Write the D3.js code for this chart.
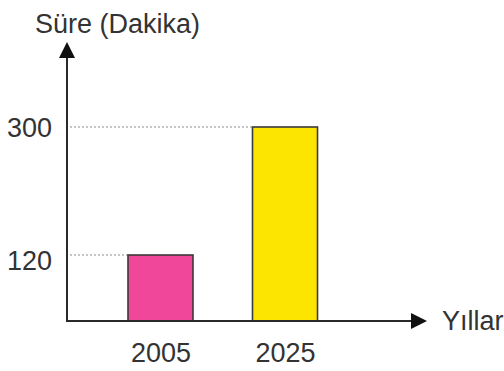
<!DOCTYPE html>
<html>
<head>
<meta charset="utf-8">
<script src="https://cdn.jsdelivr.net/npm/d3@7"></script>
<style>
  html, body { margin: 0; padding: 0; background: #fff; }
  svg { display: block; }
  text { font-family: "Liberation Sans", Arial, sans-serif; fill: #333; }
</style>
</head>
<body>
<script>
const years = ["2005", "2025"];
const durations = [120, 300];
const barColors = ["#f0479a", "#fce500"];
const yTicks = [120, 300];
const yTitle = "Süre (Dakika)";
const xTitle = "Yıllar";

const W = 504, H = 371;
const x0 = 67, base = 321;

const svg = d3.select("body").append("svg").attr("width", W).attr("height", H);

// reference drawing is not to scale: piecewise linear scale through its tick positions
const y = d3.scaleLinear().domain([0, 120, 300]).range([base, 255, 127]);
const x = d3.scalePoint().domain(years).range([160.5, 285]);
const barW = 65;

// dotted guide lines
svg.selectAll("line.guide").data(durations).enter().append("line")
  .attr("class", "guide")
  .attr("x1", x0 + 3)
  .attr("x2", (d, i) => x(years[i]) - barW / 2)
  .attr("y1", d => y(d)).attr("y2", d => y(d))
  .attr("stroke", "#8a8a8a").attr("stroke-width", 1.2)
  .attr("stroke-dasharray", "2,2");

// bars
svg.selectAll("rect.bar").data(durations).enter().append("rect")
  .attr("class", "bar")
  .attr("x", (d, i) => x(years[i]) - barW / 2)
  .attr("width", barW)
  .attr("y", d => y(d))
  .attr("height", d => base - y(d))
  .attr("fill", (d, i) => barColors[i])
  .attr("stroke", "#3a3a3a").attr("stroke-width", 1.6);

// axes lines with arrows
const axisColor = "#2a2a2a";
svg.append("line").attr("x1", x0).attr("x2", x0).attr("y1", base + 1).attr("y2", 56)
  .attr("stroke", axisColor).attr("stroke-width", 2);
svg.append("path").attr("d", `M${x0},42 L${x0 - 8},58 L${x0 + 8},58 Z`).attr("fill", "#111");
svg.append("line").attr("x1", x0 - 1).attr("x2", 414).attr("y1", base).attr("y2", base)
  .attr("stroke", axisColor).attr("stroke-width", 2);
svg.append("path").attr("d", `M427,${base} L411,${base - 8} L411,${base + 8} Z`).attr("fill", "#111");

// y tick labels
const yAxis = svg.append("g").attr("transform", `translate(${x0},0)`)
  .call(d3.axisLeft(y).tickValues(yTicks).tickSize(0).tickPadding(15));
yAxis.select(".domain").remove();
yAxis.selectAll("text").style("font-size", "27px").style("font-family", "'Liberation Sans', Arial, sans-serif")
  .attr("fill", "#333")
  .attr("y", d => d === 120 ? 6 : 1);

// x tick labels
const xAxis = svg.append("g").attr("transform", `translate(0,${base})`)
  .call(d3.axisBottom(x).tickSize(0).tickPadding(22));
xAxis.select(".domain").remove();
xAxis.selectAll("text").style("font-size", "27px").style("font-family", "'Liberation Sans', Arial, sans-serif")
  .attr("fill", "#333");

// titles
svg.append("text").attr("x", 35).attr("y", 33).style("font-size", "27px").text(yTitle);
svg.append("text").attr("x", 442).attr("y", 330).style("font-size", "27px").text(xTitle);
</script>
</body>
</html>
